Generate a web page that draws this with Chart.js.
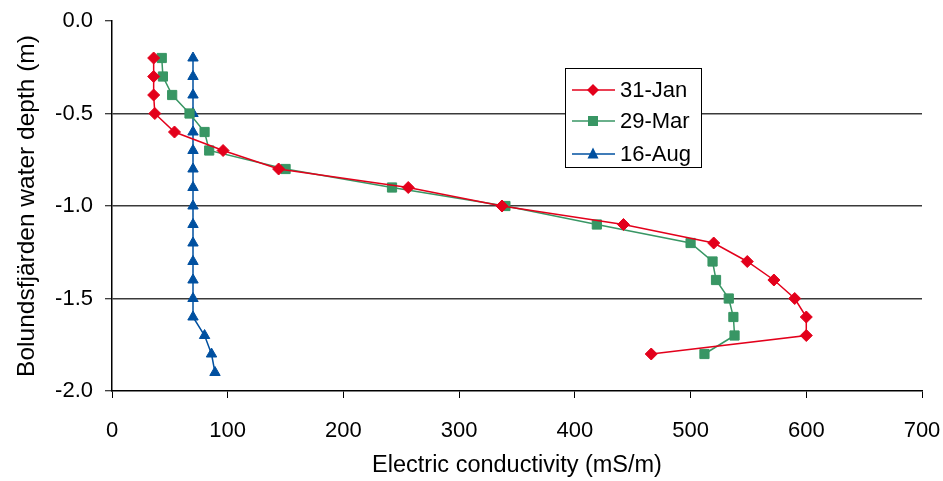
<!DOCTYPE html>
<html>
<head>
<meta charset="utf-8">
<script src="https://cdn.jsdelivr.net/npm/chart.js@4/dist/chart.umd.min.js"></script>
<style>
  html, body { margin: 0; padding: 0; background: #ffffff; }
  #wrap { width: 943px; height: 481px; position: relative; }
</style>
</head>
<body>
<div id="wrap"><canvas id="c" width="943" height="481"></canvas></div>
<script>
// ---- Data ----
const seriesLabels = ['31-Jan', '29-Mar', '16-Aug'];

const depthJan = [-0.2, -0.3, -0.4, -0.5, -0.6, -0.7, -0.8, -0.9, -1.0, -1.1, -1.2, -1.3, -1.4, -1.5, -1.6, -1.7, -1.8];
const condJan  = [36, 36, 36, 37, 54, 96, 144, 256, 337, 442, 520, 549, 572, 590, 600, 600, 466];

const depthMar = [-0.2, -0.3, -0.4, -0.5, -0.6, -0.7, -0.8, -0.9, -1.0, -1.1, -1.2, -1.3, -1.4, -1.5, -1.6, -1.7, -1.8];
const condMar  = [43, 44, 52, 67, 80, 84, 150, 242, 340, 419, 500, 519, 522, 533, 537, 538, 512];

const depthAug = [-0.2, -0.3, -0.4, -0.5, -0.6, -0.7, -0.8, -0.9, -1.0, -1.1, -1.2, -1.3, -1.4, -1.5, -1.6, -1.7, -1.8, -1.9];
const condAug  = [70, 70, 70, 70, 70, 70, 70, 70, 70, 70, 70, 70, 70, 70, 70, 80, 86, 89];

const xTicks = [0, 100, 200, 300, 400, 500, 600, 700];
const yTicks = [0.0, -0.5, -1.0, -1.5, -2.0];

const xTitle = 'Electric conductivity (mS/m)';
const yTitle = 'Bolundsfjärden water depth (m)';

// ---- Styles ----
const RED = '#E3001B';
const GREEN = '#389664';
const BLUE = '#0050A0';
const FONT = "'Liberation Sans', Arial, sans-serif";

function toPoints(xs, ys) { return xs.map((v, i) => ({ x: v, y: ys[i] })); }

const legendPlugin = {
  id: 'boxLegend',
  afterDraw(chart) {
    const ctx = chart.ctx;
    const ca = chart.chartArea;
    const bx = ca.left + 453, by = ca.top + 47, bw = 136, bh = 99;
    ctx.save();
    ctx.fillStyle = '#ffffff';
    ctx.fillRect(bx, by, bw, bh);
    ctx.strokeStyle = '#000000';
    ctx.lineWidth = 1;
    ctx.strokeRect(bx + 0.5, by + 0.5, bw, bh);
    const rows = [22, 53, 86];
    chart.data.datasets.forEach((ds, i) => {
      const y = by + rows[i];
      ctx.strokeStyle = ds.borderColor;
      ctx.lineWidth = 1.5;
      ctx.beginPath();
      ctx.moveTo(bx + 7, y);
      ctx.lineTo(bx + 50, y);
      ctx.stroke();
      const mx = bx + 28;
      ctx.fillStyle = ds.pointBackgroundColor;
      ctx.beginPath();
      if (ds.pointStyle === 'rectRot') {
        ctx.moveTo(mx, y - 6); ctx.lineTo(mx + 6, y); ctx.lineTo(mx, y + 6); ctx.lineTo(mx - 6, y);
      } else if (ds.pointStyle === 'rect') {
        ctx.rect(mx - 5, y - 5, 10, 10);
      } else {
        ctx.moveTo(mx, y - 6.5); ctx.lineTo(mx + 5.5, y + 4.5); ctx.lineTo(mx - 5.5, y + 4.5);
      }
      ctx.closePath();
      ctx.fill();
      ctx.fillStyle = '#000000';
      ctx.font = '22px ' + FONT;
      ctx.textAlign = 'left';
      ctx.textBaseline = 'middle';
      ctx.fillText(ds.label, bx + 55, y + 1);
    });
    ctx.restore();
  }
};

const chart = new Chart(document.getElementById('c'), {
  type: 'scatter',
  data: {
    datasets: [
      {
        label: seriesLabels[0],
        data: toPoints(condJan, depthJan),
        showLine: true,
        borderColor: RED, backgroundColor: RED,
        pointBackgroundColor: RED, pointBorderColor: RED,
        borderWidth: 1.5, pointStyle: 'rectRot', pointRadius: 6, pointBorderWidth: 1
      },
      {
        label: seriesLabels[1],
        data: toPoints(condMar, depthMar),
        showLine: true,
        borderColor: GREEN, backgroundColor: GREEN,
        pointBackgroundColor: GREEN, pointBorderColor: GREEN,
        borderWidth: 1.5, pointStyle: 'rect', pointRadius: 6.5, pointBorderWidth: 1
      },
      {
        label: seriesLabels[2],
        data: toPoints(condAug, depthAug),
        showLine: true,
        borderColor: BLUE, backgroundColor: BLUE,
        pointBackgroundColor: BLUE, pointBorderColor: BLUE,
        borderWidth: 1.5, pointStyle: 'triangle', pointRadius: 6, pointBorderWidth: 1
      }
    ]
  },
  options: {
    responsive: false,
    animation: false,
    devicePixelRatio: 1,
    layout: { padding: { top: 21, right: 21, bottom: 0, left: 0 } },
    plugins: { legend: { display: false }, tooltip: { enabled: false } },
    scales: {
      x: {
        type: 'linear',
        min: 0, max: 700,
        afterBuildTicks(scale) { scale.ticks = xTicks.map(v => ({ value: v })); },
        afterFit(scale) { scale.height = 90; scale.paddingLeft = 0; scale.paddingRight = 0; },
        ticks: { color: '#000', font: { family: FONT, size: 22 }, padding: 20, maxRotation: 0 },
        grid: { drawOnChartArea: false, drawTicks: true, tickLength: 7, tickColor: '#000', tickWidth: 1 },
        border: { display: true, color: '#000', width: 1.5 },
        title: { display: true, text: xTitle, color: '#000', font: { family: FONT, size: 23.5 }, padding: { top: 0, bottom: 1 } }
      },
      y: {
        type: 'linear',
        min: -2, max: 0,
        afterBuildTicks(scale) { scale.ticks = yTicks.map(v => ({ value: v })); },
        afterFit(scale) { scale.width = 112; scale.paddingTop = 0; scale.paddingBottom = 0; },
        ticks: { color: '#000', font: { family: FONT, size: 22 }, padding: 12, callback: v => Number(v).toFixed(1) },
        grid: {
          drawTicks: true, tickLength: 7, tickColor: '#000', tickWidth: 1,
          color: ctx => (ctx.tick && (ctx.tick.value === 0 || ctx.tick.value === -2)) ? 'rgba(0,0,0,0)' : '#3a3a3a',
          lineWidth: 1.5
        },
        border: { display: true, color: '#000', width: 1.5 },
        title: { display: true, text: yTitle, color: '#000', font: { family: FONT, size: 24.5 }, padding: { top: 13, bottom: 0 } }
      }
    }
  },
  plugins: [legendPlugin]
});
</script>
</body>
</html>
